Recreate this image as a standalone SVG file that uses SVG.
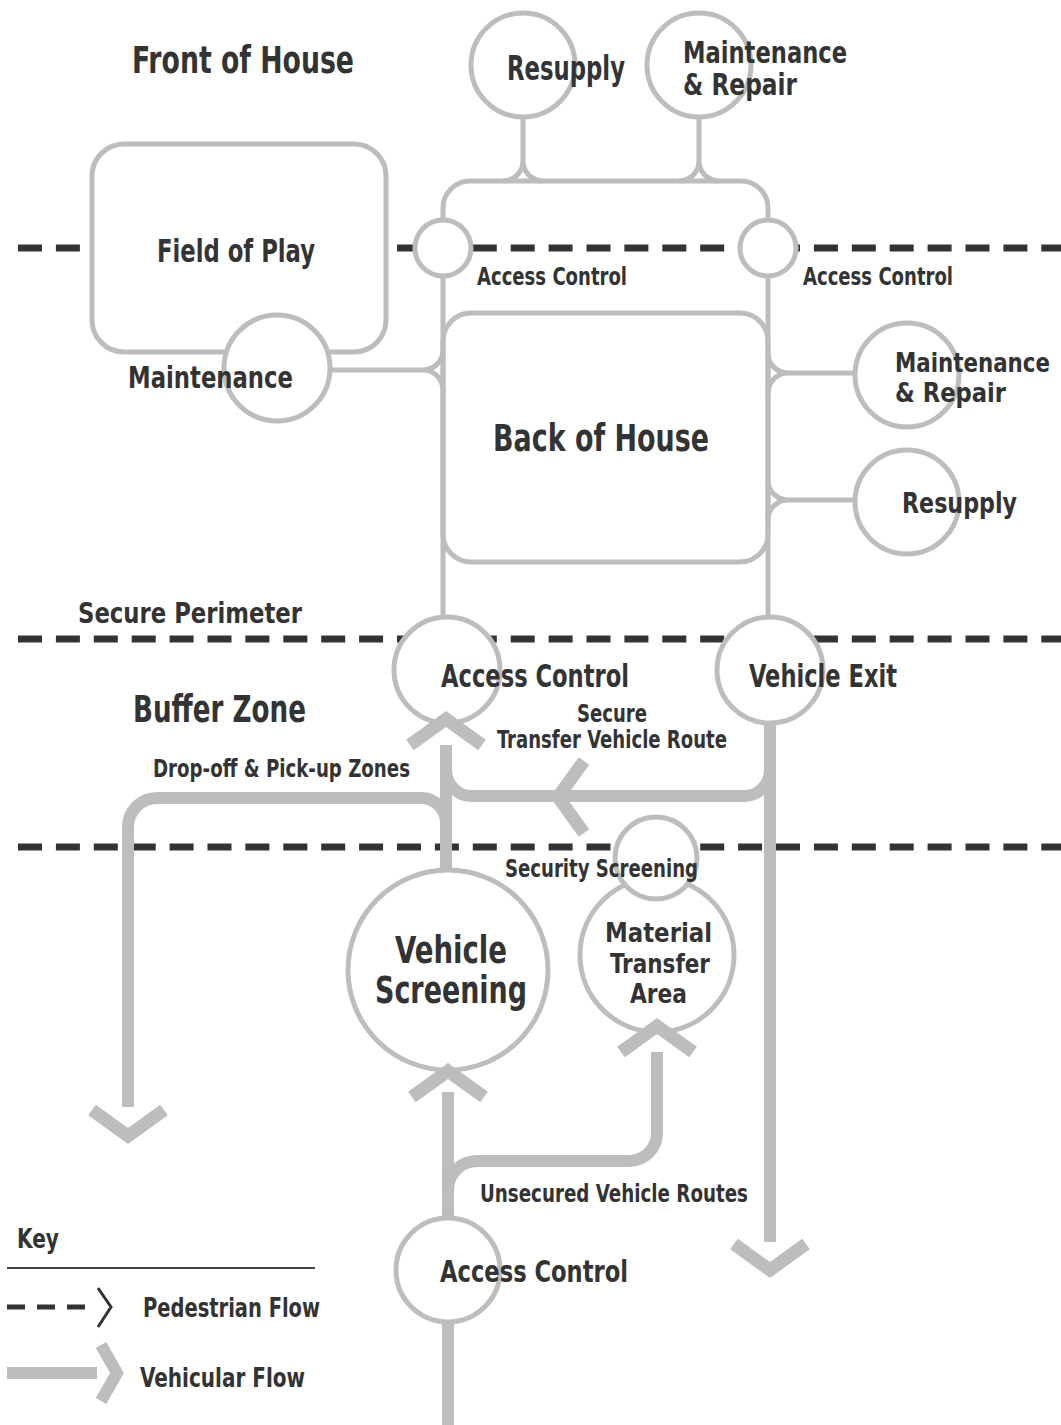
<svg xmlns="http://www.w3.org/2000/svg" width="1061" height="1425" viewBox="0 0 1061 1425">
  <style>
    .t { font-family: "Liberation Sans Narrow", "DejaVu Sans Condensed", "Liberation Sans", Arial, sans-serif; font-weight: bold; fill: #333; }
    .node { fill: #fff; stroke: #bdbdbd; stroke-width: 5; }
    .thin { fill: none; stroke: #bdbdbd; stroke-width: 5; }
    .thick { fill: none; stroke: #bdbdbd; stroke-width: 12; }
    .chev { fill: none; stroke: #bdbdbd; stroke-width: 13; stroke-linejoin: miter; stroke-miterlimit: 10; }
    .zone { fill: none; stroke: #333; stroke-width: 7; stroke-dasharray: 24 13.9; }
  </style>

  <rect width="1061" height="1425" fill="#fff"/>

  <!-- zone boundaries (pedestrian flow lines) -->
  <g id="zones">
    <path class="zone" d="M18 248 H1061"/>
    <path class="zone" d="M18 639 H1061"/>
    <path class="zone" d="M18 847 H1061"/>
  </g>

  <!-- area titles -->
  <g id="titles">
    <text class="t" x="132" y="73" font-size="37" textLength="222" lengthAdjust="spacingAndGlyphs">Front of House</text>
    <text class="t" x="78" y="623" font-size="29" textLength="224" lengthAdjust="spacingAndGlyphs">Secure Perimeter</text>
    <text class="t" x="133" y="722" font-size="37" textLength="173" lengthAdjust="spacingAndGlyphs">Buffer Zone</text>
  </g>

  <!-- nodes -->
  <g id="field-of-play">
    <rect class="node" x="92" y="144" width="294" height="208" rx="32"/>
    <text class="t" x="157" y="262" font-size="32" textLength="158" lengthAdjust="spacingAndGlyphs">Field of Play</text>
  </g>
  <g id="maintenance-fop">
    <circle class="node" cx="277" cy="368" r="53"/>
    <text class="t" x="128" y="388" font-size="30" textLength="165" lengthAdjust="spacingAndGlyphs">Maintenance</text>
  </g>
  <g id="back-of-house">
    <rect class="node" x="443" y="313" width="325" height="249" rx="28"/>
    <text class="t" x="493" y="451" font-size="37" textLength="216" lengthAdjust="spacingAndGlyphs">Back of House</text>
  </g>
  <g id="resupply-top">
    <circle class="node" cx="523" cy="65" r="52"/>
    <text class="t" x="507" y="80" font-size="33" textLength="118" lengthAdjust="spacingAndGlyphs">Resupply</text>
  </g>
  <g id="maintenance-top">
    <circle class="node" cx="699" cy="65" r="52"/>
    <text class="t" x="683" y="63" font-size="30" textLength="164" lengthAdjust="spacingAndGlyphs">Maintenance</text>
    <text class="t" x="683" y="95" font-size="30" textLength="114" lengthAdjust="spacingAndGlyphs">&amp; Repair</text>
  </g>
  <g id="access-left">
    <circle class="node" cx="443" cy="248" r="28"/>
    <text class="t" x="477" y="285" font-size="25" textLength="150" lengthAdjust="spacingAndGlyphs">Access Control</text>
  </g>
  <g id="access-right">
    <circle class="node" cx="768" cy="248" r="28"/>
    <text class="t" x="803" y="285" font-size="25" textLength="150" lengthAdjust="spacingAndGlyphs">Access Control</text>
  </g>
  <g id="maintenance-right">
    <circle class="node" cx="907" cy="375" r="52"/>
    <text class="t" x="895" y="372" font-size="26" textLength="155" lengthAdjust="spacingAndGlyphs">Maintenance</text>
    <text class="t" x="895" y="402" font-size="26" textLength="111" lengthAdjust="spacingAndGlyphs">&amp; Repair</text>
  </g>
  <g id="resupply-right">
    <circle class="node" cx="907" cy="502" r="52"/>
    <text class="t" x="902" y="513" font-size="28" textLength="115" lengthAdjust="spacingAndGlyphs">Resupply</text>
  </g>
  <g id="access-perimeter">
    <circle class="node" cx="447" cy="670" r="53"/>
    <text class="t" x="441" y="687" font-size="32" textLength="188" lengthAdjust="spacingAndGlyphs">Access Control</text>
  </g>
  <g id="vehicle-exit">
    <circle class="node" cx="770" cy="670" r="53"/>
    <text class="t" x="749" y="687" font-size="32" textLength="148" lengthAdjust="spacingAndGlyphs">Vehicle Exit</text>
  </g>
  <g id="vehicle-screening">
    <circle class="node" cx="448" cy="970" r="100"/>
    <text class="t" x="395" y="963" font-size="37" textLength="112" lengthAdjust="spacingAndGlyphs">Vehicle</text>
    <text class="t" x="375" y="1003" font-size="37" textLength="152" lengthAdjust="spacingAndGlyphs">Screening</text>
  </g>
  <g id="material-transfer">
    <circle class="node" cx="657" cy="955" r="77"/>
    <text class="t" x="605" y="942" font-size="27" textLength="107" lengthAdjust="spacingAndGlyphs">Material</text>
    <text class="t" x="610" y="973" font-size="27" textLength="100" lengthAdjust="spacingAndGlyphs">Transfer</text>
    <text class="t" x="630" y="1003" font-size="27" textLength="57" lengthAdjust="spacingAndGlyphs">Area</text>
  </g>
  <g id="security-screening">
    <circle class="node" cx="656" cy="858" r="41"/>
    <text class="t" x="505" y="877" font-size="24" textLength="193" lengthAdjust="spacingAndGlyphs">Security Screening</text>
  </g>
  <g id="access-entry">
    <circle class="node" cx="448" cy="1270" r="52"/>
    <text class="t" x="440" y="1282" font-size="30" textLength="188" lengthAdjust="spacingAndGlyphs">Access Control</text>
  </g>

  <!-- connectors -->
  <g id="connectors">
    <!-- service loop above back of house -->
    <path class="thin" d="M443 220 V208 A27 27 0 0 1 470 181 H741 A27 27 0 0 1 768 208 V220"/>
    <path class="thin" d="M523 117 V161 M523 161 A20 20 0 0 1 503 181 M523 161 A20 20 0 0 0 543 181"/>
    <path class="thin" d="M699 117 V161 M699 161 A20 20 0 0 1 679 181 M699 161 A20 20 0 0 0 719 181"/>
    <!-- secure corridors -->
    <path class="thin" d="M443 276 V617"/>
    <path class="thin" d="M768 276 V617"/>
    <!-- side branches -->
    <path class="thin" d="M330 370 H423 M423 370 A20 20 0 0 0 443 350 M423 370 A20 20 0 0 1 443 390"/>
    <path class="thin" d="M855 373 H788 M788 373 A20 20 0 0 1 768 353 M788 373 A20 20 0 0 0 768 393"/>
    <path class="thin" d="M855 500 H788 M788 500 A20 20 0 0 1 768 480 M788 500 A20 20 0 0 0 768 520"/>

    <!-- vehicular routes -->
    <path class="thick" d="M446 745 V870"/>
    <path class="thick" d="M128 1107 V827 A29 29 0 0 1 157 798 H421 A25 25 0 0 1 446 823"/>
    <path class="thick" d="M770 723 V1242"/>
    <path class="thick" d="M770 770 A26 26 0 0 1 744 796 H472 A26 26 0 0 1 446 770"/>
    <path class="thick" d="M448 1092 V1218"/>
    <path class="thick" d="M448 1190 A29 29 0 0 1 477 1161 H629 A28 28 0 0 0 657 1133 V1052"/>
    <path class="thick" d="M448 1322 V1425"/>

    <!-- flow arrowheads -->
    <polyline class="chev" points="410,745 446,719 482,745"/>
    <polyline class="chev" points="412,1097 448,1071 484,1097"/>
    <polyline class="chev" points="621,1052 657,1026 693,1052"/>
    <polyline class="chev" points="92,1110 128,1136 164,1110"/>
    <polyline class="chev" points="734,1244 770,1270 806,1244"/>
    <polyline class="chev" points="584,761 558,797 584,833"/>
  </g>

  <!-- route labels -->
  <g id="route-labels">
    <text class="t" x="153" y="777" font-size="25" textLength="257" lengthAdjust="spacingAndGlyphs">Drop-off &amp; Pick-up Zones</text>
    <text class="t" x="577" y="722" font-size="24" textLength="70" lengthAdjust="spacingAndGlyphs">Secure</text>
    <text class="t" x="497" y="748" font-size="24" textLength="230" lengthAdjust="spacingAndGlyphs">Transfer Vehicle Route</text>
    <text class="t" x="480" y="1202" font-size="24" textLength="268" lengthAdjust="spacingAndGlyphs">Unsecured Vehicle Routes</text>
  </g>

  <!-- legend -->
  <g id="key">
    <text class="t" x="17" y="1248" font-size="26" textLength="42" lengthAdjust="spacingAndGlyphs">Key</text>
    <path d="M7 1268 H315" stroke="#444" stroke-width="2" fill="none"/>
    <path d="M7 1307 H88" stroke="#333" stroke-width="5" stroke-dasharray="18 12" fill="none"/>
    <polyline points="98,1288 111,1307 98,1327" fill="none" stroke="#333" stroke-width="3"/>
    <text class="t" x="143" y="1317" font-size="26" textLength="177" lengthAdjust="spacingAndGlyphs">Pedestrian Flow</text>
    <path d="M7 1373 H97" stroke="#bdbdbd" stroke-width="12" fill="none"/>
    <polyline points="101,1345 117,1373 101,1401" fill="none" stroke="#bdbdbd" stroke-width="12"/>
    <text class="t" x="140" y="1387" font-size="26" textLength="165" lengthAdjust="spacingAndGlyphs">Vehicular Flow</text>
  </g>
</svg>
